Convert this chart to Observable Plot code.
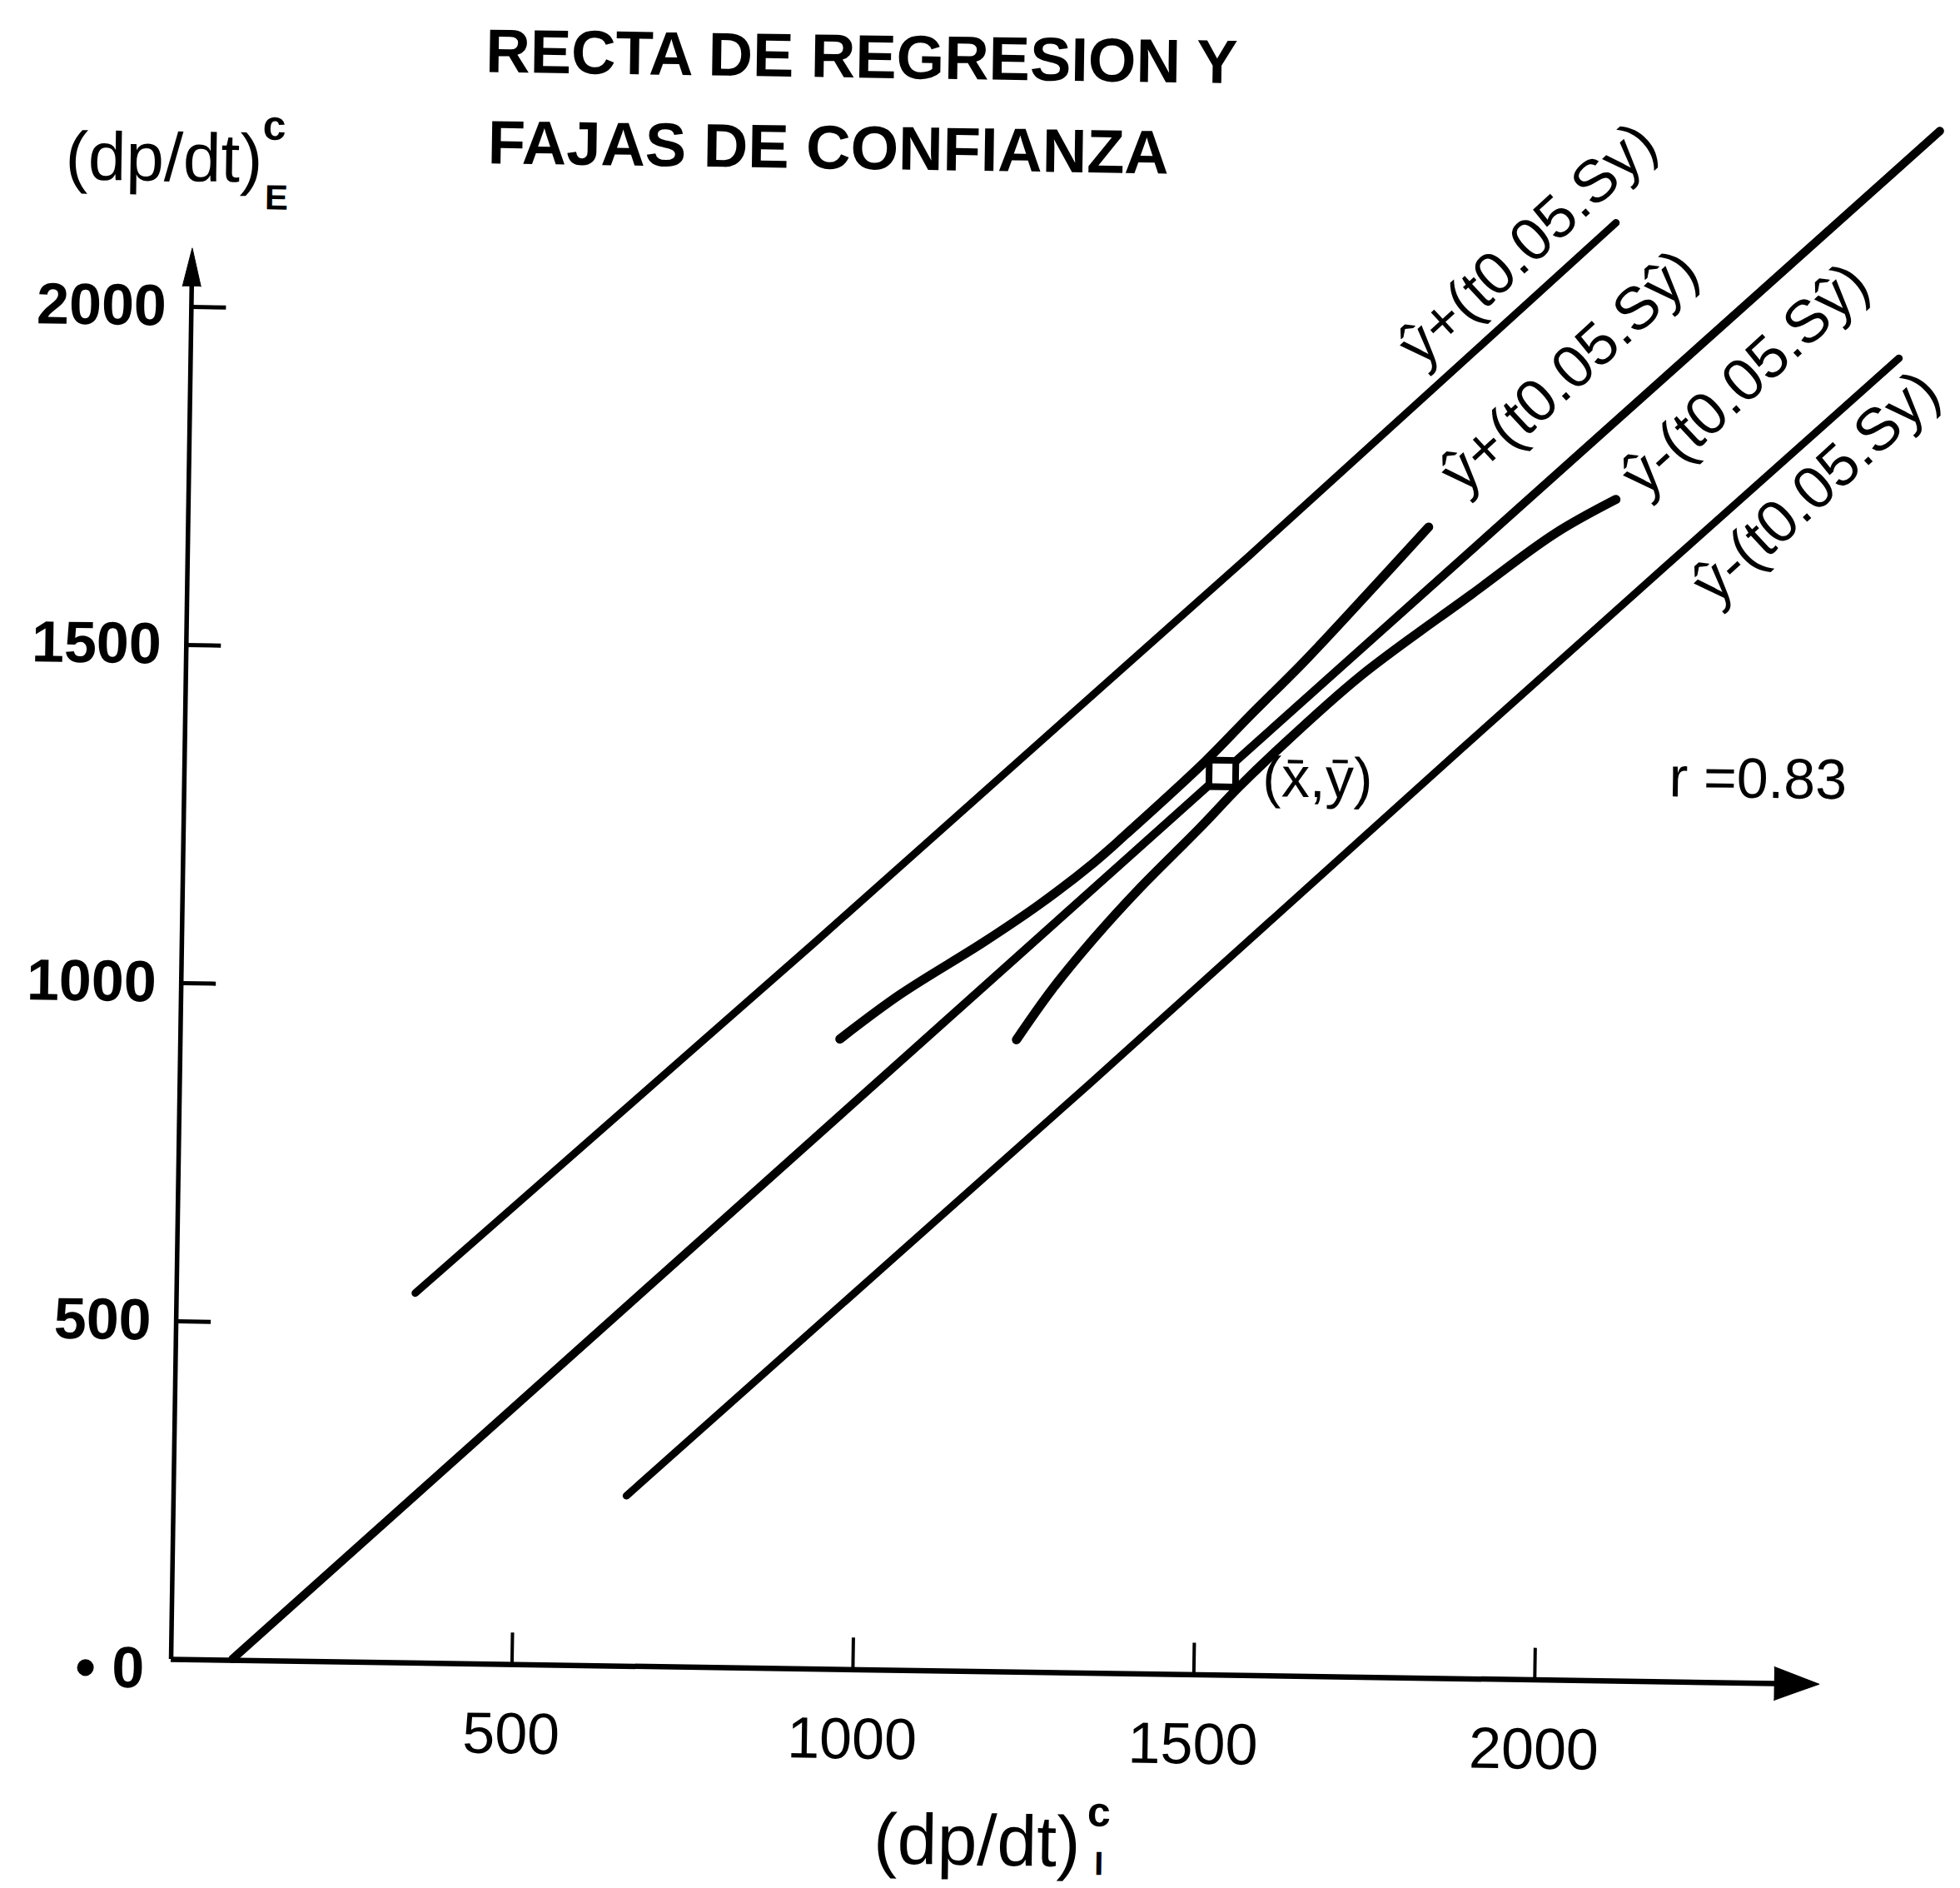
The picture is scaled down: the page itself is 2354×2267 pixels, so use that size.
<!DOCTYPE html>
<html><head><meta charset="utf-8">
<script src="https://cdn.jsdelivr.net/npm/d3@7"></script>
<script src="https://cdn.jsdelivr.net/npm/@observablehq/plot@0.6"></script>
<style>
html,body{margin:0;padding:0;background:#fff;overflow:hidden;}
#chart{width:2354px;height:2267px;overflow:hidden;background:#fff;}
#chart svg{display:block;}
</style></head><body><div id="chart"></div>
<script>
// ---- data ----
const xTicks = [500, 1000, 1500, 2000];
const yTicks = [500, 1000, 1500, 2000];
// regression line  y^
const regX = [90, 2560];
const regY = [2, 2299];
// y^ + (t0.05 . Sy)
const upperPredX = [350, 930, 1557, 2087];
const upperPredY = [547, 1076, 1656, 2156];
// y^ - (t0.05 . Sy)
const lowerPredX = [664, 1336, 1870, 2167, 2505];
const lowerPredY = [252, 873, 1373, 1649, 1962];
// y^ + (t0.05 . Sy^)
const upperConfX = [967, 1054, 1175, 1256, 1335, 1383, 1497, 1560, 1641, 1744, 1819];
const upperConfY = [932, 999, 1078, 1135, 1198, 1242, 1351, 1418, 1502, 1617, 1702];
// y^ - (t0.05 . Sy^)
const lowerConfX = [1226, 1277, 1337, 1400, 1490, 1546, 1601, 1722, 1884, 2004, 2093];
const lowerConfY = [935, 1010, 1086, 1158, 1252, 1313, 1368, 1480, 1604, 1695, 1747];
// mean point (x-bar, y-bar)
const meanX = [1522];
const meanY = [1333];
// axis extents (arrow tips)
const xAxisEnd = 2417;
const yAxisEnd = 2087;
const rValue = "0.83";
const bandLabels = ["ŷ+(t0.05.Sy)", "ŷ+(t0.05.Sŷ)", "ŷ-(t0.05.Sŷ)", "ŷ-(t0.05.Sy)"];
const titleLines = ["RECTA DE REGRESION Y", "FAJAS DE CONFIANZA"];

// ---- helpers ----
const rows = (xs, ys) => xs.map((x, i) => ({x, y: ys[i]}));
const FONT = "Liberation Sans, Arial, Helvetica, sans-serif";
const W = 2354, H = 2267;
const mL = 205, mB = 275;
const xMax = 2624, yMax = 2453;
const kx = (W - mL) / xMax;      // px per x unit
const ky = (H - mB) / yMax;      // px per y unit

// arrow heads (computed from axis ends and pixel sizes)
const yHead = [
  {x: -11 / kx, y: yAxisEnd - 46 / ky},
  {x: 0, y: yAxisEnd},
  {x: 11 / kx, y: yAxisEnd - 46 / ky}
];
const xHead = [
  {x: xAxisEnd - 54 / kx, y: -20 / ky},
  {x: xAxisEnd, y: 0},
  {x: xAxisEnd - 54 / kx, y: 20 / ky}
];

const ann = (text, x, y, o = {}) =>
  Plot.text([text], {x, y, text: d => d, fill: "black", fontFamily: FONT, ...o});

const bandPos = [[1958, 2122], [2022, 1935], [2280, 1927], [2386, 1769]];

const plot = Plot.plot({
  width: W,
  height: H,
  marginLeft: mL,
  marginRight: 0,
  marginTop: 0,
  marginBottom: mB,
  x: {domain: [0, xMax], axis: null},
  y: {domain: [0, yMax], axis: null},
  style: {background: "white", color: "black", fontFamily: FONT, overflow: "visible"},
  marks: [
    // axes
    Plot.ruleX([0], {y1: 0, y2: yAxisEnd - 20 / ky, stroke: "black", strokeWidth: 5.5}),
    Plot.ruleY([0], {x1: 0, x2: xAxisEnd - 20 / kx, stroke: "black", strokeWidth: 6.5}),
    Plot.line(yHead, {x: "x", y: "y", fill: "black", stroke: "black", strokeWidth: 1}),
    Plot.line(xHead, {x: "x", y: "y", fill: "black", stroke: "black", strokeWidth: 1}),
    // inward ticks
    Plot.ruleY(yTicks, {x1: 0, x2: 42 / kx, stroke: "black", strokeWidth: 5}),
    Plot.ruleX(xTicks, {y1: 0, y2: 38 / ky, stroke: "black", strokeWidth: 4}),
    Plot.axisY({ticks: yTicks, tickSize: 0, tickPadding: 30, fontSize: 70, fontWeight: "bold", tickFormat: d => String(d), label: null, fontFamily: FONT}),
    Plot.axisX({ticks: xTicks, tickSize: 0, tickPadding: 57, fontSize: 70, tickFormat: d => String(d), label: null, fontFamily: FONT}),
    ann("• 0", 0, 0, {textAnchor: "end", dx: -32, dy: 12, fontSize: 70, fontWeight: "bold"}),

    // lines
    Plot.line(rows(upperPredX, upperPredY), {x: "x", y: "y", stroke: "black", strokeWidth: 9, strokeLinecap: "round"}),
    Plot.line(rows(lowerPredX, lowerPredY), {x: "x", y: "y", stroke: "black", strokeWidth: 9, strokeLinecap: "round"}),
    Plot.line(rows(regX, regY), {x: "x", y: "y", stroke: "black", strokeWidth: 10, strokeLinecap: "round"}),
    Plot.line(rows(upperConfX, upperConfY), {x: "x", y: "y", curve: "catmull-rom", stroke: "black", strokeWidth: 11, strokeLinecap: "round"}),
    Plot.line(rows(lowerConfX, lowerConfY), {x: "x", y: "y", curve: "catmull-rom", stroke: "black", strokeWidth: 11, strokeLinecap: "round"}),
    Plot.dot(rows(meanX, meanY), {x: "x", y: "y", symbol: "square", r: 18, fill: "white", stroke: "black", strokeWidth: 8}),

    // band labels
    ...bandLabels.map((t, i) => ann(t, bandPos[i][0], bandPos[i][1], {rotate: -43.5, fontSize: 72, textAnchor: "middle"})),
    ann("(x\u0304,ȳ)", 1581, 1327, {textAnchor: "start", fontSize: 68}),
    ann("r =" + rValue, 2177, 1336, {textAnchor: "start", fontSize: 68}),

    // title
    ann(titleLines[0], 426, 2383, {textAnchor: "start", fontSize: 74, fontWeight: "bold"}),
    ann(titleLines[1], 431, 2248, {textAnchor: "start", fontSize: 74, fontWeight: "bold"}),

    // axis titles
    ann("(dp/dt)", -188, 2186, {textAnchor: "start", lineAnchor: "bottom", fontSize: 82}),
    ann("c", 101, 2249, {textAnchor: "start", lineAnchor: "bottom", fontSize: 50, fontWeight: "bold"}),
    ann("E", 105, 2146, {textAnchor: "start", lineAnchor: "bottom", fontSize: 42, fontWeight: "bold"}),
    ann("(dp/dt)", 1034, -286, {textAnchor: "start", lineAnchor: "bottom", fontSize: 86}),
    ann("c", 1347, -226, {textAnchor: "start", lineAnchor: "bottom", fontSize: 50, fontWeight: "bold"}),
    ann("I", 1358, -298, {textAnchor: "start", lineAnchor: "bottom", fontSize: 40, fontWeight: "bold"})
  ]
});

plot.style.transform = "rotate(0.86deg)";
plot.style.transformOrigin = `${mL}px ${H - mB}px`;
document.getElementById("chart").appendChild(plot);
</script>
</body></html>
